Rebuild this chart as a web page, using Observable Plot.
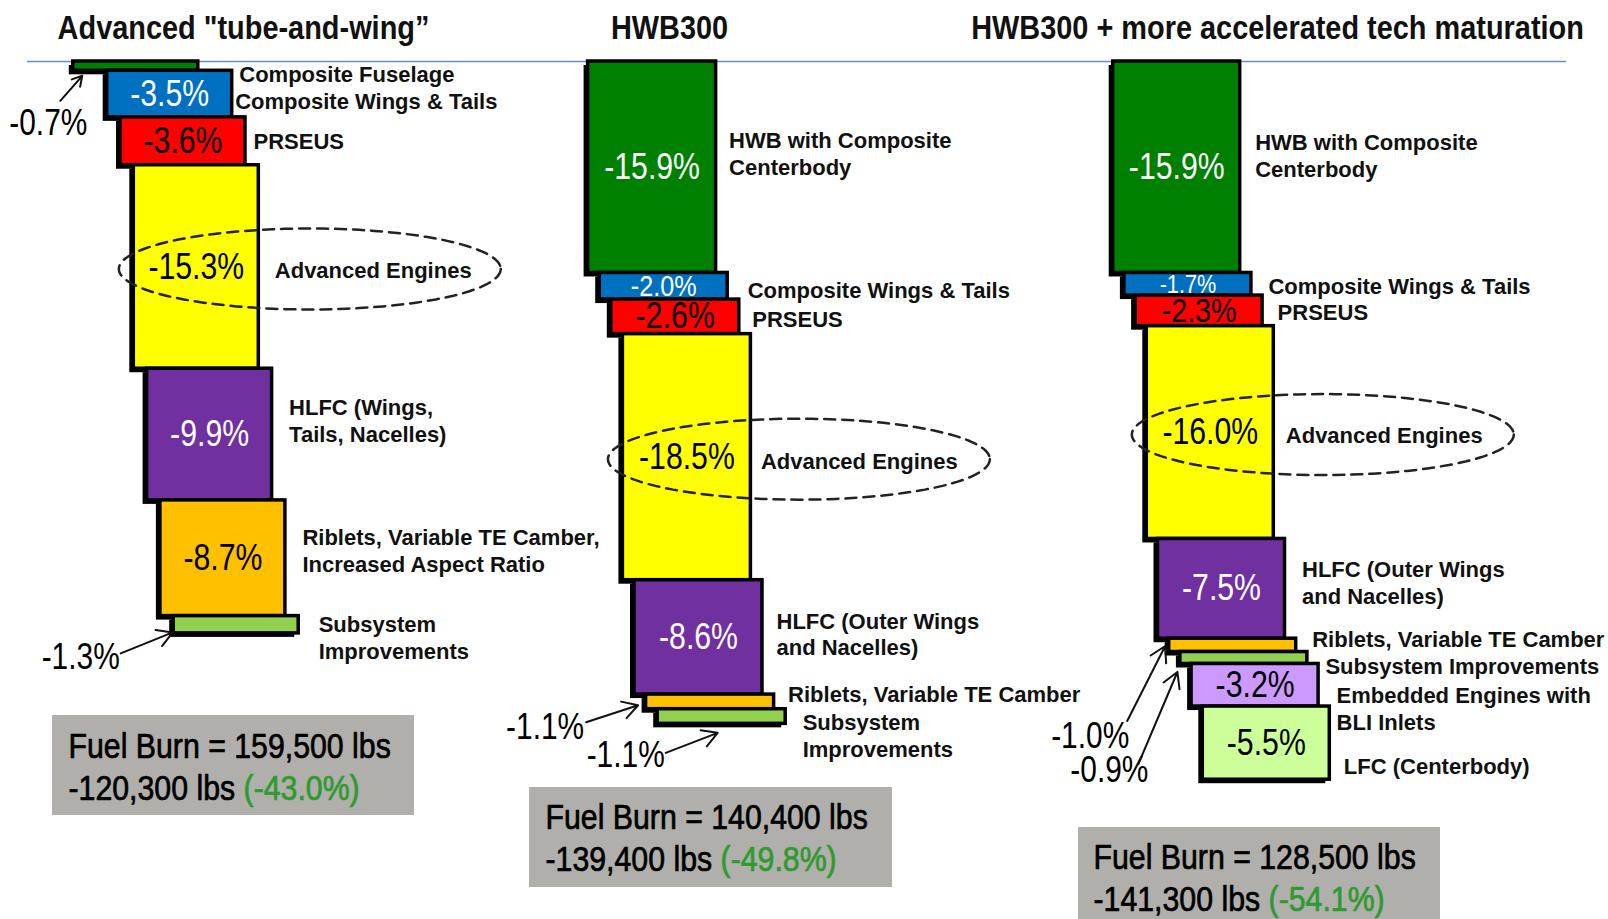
<!DOCTYPE html>
<html><head><meta charset="utf-8">
<script src="https://cdn.jsdelivr.net/npm/d3@7"></script>
<script src="https://cdn.jsdelivr.net/npm/@observablehq/plot@0.6"></script>
<style>body{margin:0;background:#fff;}</style>
</head><body><div id="chart"></div>
<script>
// ---------- data ----------
const titles = ['Advanced "tube-and-wing\u201D', 'HWB300', 'HWB300 + more accelerated tech maturation'];

const catsTW = ["Composite Fuselage", "Composite Wings & Tails", "PRSEUS", "Advanced Engines",
  "HLFC (Wings,\nTails, Nacelles)", "Riblets, Variable TE Camber,\nIncreased Aspect Ratio", "Subsystem\nImprovements"];
const valsTW = [-0.7, -3.5, -3.6, -15.3, -9.9, -8.7, -1.3];
const keysTW = ["fuse", "wings", "prseus", "engines", "hlfc", "riblets", "subsys"];

const catsHWB = ["HWB with Composite\nCenterbody", "Composite Wings & Tails", "PRSEUS", "Advanced Engines",
  "HLFC (Outer Wings\nand Nacelles)", "Riblets, Variable TE Camber", "Subsystem\nImprovements"];
const valsHWB = [-15.9, -2.0, -2.6, -18.5, -8.6, -1.1, -1.1];
const keysHWB = ["hwb", "wings", "prseus", "engines", "hlfc", "riblets", "subsys"];

const catsHWBplus = ["HWB with Composite\nCenterbody", "Composite Wings & Tails", "PRSEUS", "Advanced Engines",
  "HLFC (Outer Wings\nand Nacelles)", "Riblets, Variable TE Camber", "Subsystem Improvements",
  "Embedded Engines with\nBLI Inlets", "LFC (Centerbody)"];
const valsHWBplus = [-15.9, -1.7, -2.3, -16.0, -7.5, -1.0, -0.9, -3.2, -5.5];
const keysHWBplus = ["hwb", "wings", "prseus", "engines", "hlfc", "riblets", "subsys", "bli", "lfc"];

const fuelBurn = ["159,500", "140,400", "128,500"];
const savingsLbs = ["-120,300", "-139,400", "-141,300"];
const savingsPct = ["-43.0%", "-49.8%", "-54.1%"];

// ---------- styles / layout ----------
const colorOf = {fuse:"#008000", hwb:"#008000", wings:"#0070c0", prseus:"#ff0000", engines:"#ffff00",
  hlfc:"#7030a0", riblets:"#ffc000", subsys:"#92d050", bli:"#cc99ff", lfc:"#ccff99"};
const whiteText = new Set(["fuse", "hwb", "wings", "hlfc"]);
const SANS = "'Liberation Sans',Arial,sans-serif";

const Y0 = 61, K = 13.3;               // baseline pixel, pixels per percentage point
const py = px => (px - Y0) / K;         // pixel -> percent units (layout helper)

const layout = [
  {base:106.7, step:13.3, width:125, slots:[-2.55,0,1,2,3,4,5], titleX:243,
   gaps:[41,3,8,16,17,17,20], dys:[7,6,-1,2,-15,-8,12],
   box:[52,414,715,815], textX:68, lines:[746,788],
   small:{0:{t:[-25,53], a:[-13,30,9,5]}, 6:{t:[-93,24], a:[-53,20,-1,-1]}}},
  {base:587.6, step:11.6, width:128, slots:[0,1,2,3,4,5,6], titleX:669,
   gaps:[13,20,13,10,14,14,17], dys:[-14,3,2,3,-4,-8,18],
   box:[529,892,787,887], textX:545, lines:[817,859],
   small:{5:{t:[-101,18], a:[-60,13,-8,-4]}, 6:{t:[-32,32], a:[8,29,60,9]}}},
  {base:1112.7, step:11.2, width:127, slots:[0,1,2,3,4,5,6,7,8], titleX:1277,
   gaps:[15,17,15,12,17,16,18,18,14], dys:[-12,1,1,2,-7,-7,7,23,22],
   box:[1078,1440,827,930], textX:1093, lines:[857,899],
   small:{5:{t:[-79,84], a:[-42,69,-4,-6]}, 6:{t:[-71,106], a:[-42,100,-3,8]}}}
];

const columns = [
  {cats:catsTW, vals:valsTW, keys:keysTW},
  {cats:catsHWB, vals:valsHWB, keys:keysHWB},
  {cats:catsHWBplus, vals:valsHWBplus, keys:keysHWBplus}
];

// ---------- derived tables ----------
const bars = [];
columns.forEach((c, ci) => {
  const L = layout[ci];
  let cum = 0;
  c.vals.forEach((v, i) => {
    const x1 = L.base + L.slots[i] * L.step;
    bars.push({col:ci, i, cat:c.cats[i], val:v, key:c.keys[i],
      y1:cum, y2:cum + Math.abs(v), x1, x2:x1 + L.width,
      label:v.toFixed(1) + "%", small: L.small[i]});
    cum += Math.abs(v);
  });
});
const bigBars = bars.filter(b => !b.small);
const smallBars = bars.filter(b => b.small);

// dashed ellipses around "Advanced Engines"
const ellipse = [];
bars.filter(b => b.key === "engines").forEach(b => {
  const rx = 191, ry = 40.5, cx = b.x1 - 15 + rx, cyPct = (b.y1 + b.y2) / 2 + 2 / K;
  for (let t = 0; t <= 96; t++) {
    const a = t / 96 * 2 * Math.PI;
    ellipse.push({col:b.col, x:cx + rx * Math.cos(a), y:cyPct + ry * Math.sin(a) / K});
  }
});

const boxes = layout.map((L, ci) => ({ci, x1:L.box[0], x2:L.box[1], y1:py(L.box[2]), y2:py(L.box[3]),
  tx:L.textX, l1:py(L.lines[0]), l2:py(L.lines[1]),
  t1:`Fuel Burn = ${fuelBurn[ci]} lbs`, t2:`${savingsLbs[ci]} lbs (${savingsPct[ci]})`}));

const valueSize = d => Math.max(24, Math.min(36, Math.abs(d.val) * K * 1.05 + 2));

const plot = Plot.plot({
  width:1608, height:919, margin:0,
  x:{domain:[0,1608], range:[0,1608], axis:null},
  y:{domain:[py(0), py(919)], range:[0,919], axis:null},
  marks:[
    Plot.ruleY([0], {x1:27, x2:1566, stroke:"#5b8fd6", strokeWidth:1.5}),
    Plot.rect(boxes, {x1:"x1", x2:"x2", y1:"y1", y2:"y2", fill:"#b0afab"}),
    // shadows
    Plot.rect(bars, {x1:"x1", x2:"x2", y1:"y1", y2:"y2", fill:"#000", dx:-4, dy:4}),
    Plot.rect(bars, {x1:"x1", x2:"x2", y1:"y1", y2:"y2", fill:d => colorOf[d.key], stroke:"#000", strokeWidth:3.5}),
    Plot.line(ellipse, {x:"x", y:"y", z:"col", stroke:"#222", strokeWidth:2.5, strokeDasharray:"11,7"}),
    Plot.text(bigBars, {x:d => (d.x1 + d.x2) / 2, y:d => (d.y1 + d.y2) / 2, text:"label",
      fill:d => whiteText.has(d.key) ? "#fff" : "#000", fontSize:valueSize, fontFamily:SANS,
      ariaDescription:"squeeze-0.84"}),
    Plot.text(bars, {x:d => d.x2 + layout[d.col].gaps[d.i], y:d => (d.y1 + d.y2) / 2 + layout[d.col].dys[d.i] / K,
      text:"cat", textAnchor:"start", fill:"#111", fontSize:22, fontWeight:"bold", fontFamily:SANS, lineHeight:1.22}),
    Plot.text(smallBars, {x:d => d.x1 + d.small.t[0], y:d => d.y2 + d.small.t[1] / K, text:"label",
      fill:"#000", fontSize:36, fontFamily:SANS, ariaDescription:"squeeze-0.83"}),
    Plot.arrow(smallBars, {x1:d => d.x1 + d.small.a[0], y1:d => d.y2 + d.small.a[1] / K,
      x2:d => d.x1 + d.small.a[2], y2:d => d.y2 + d.small.a[3] / K, stroke:"#111", strokeWidth:2, headLength:13}),
    Plot.text(titles, {x:(d, i) => layout[i].titleX, y:py(28), text:d => d, fill:"#111",
      fontSize:34, fontWeight:"bold", fontFamily:SANS, ariaDescription:"squeeze-0.85"}),
    Plot.text(boxes, {x:"tx", y:"l1", text:"t1", textAnchor:"start", fill:"#000", fontSize:35, fontFamily:SANS,
      stroke:"#000", strokeWidth:0.7, ariaDescription:"squeeze-0.865"}),
    Plot.text(boxes, {x:"tx", y:"l2", text:"t2", textAnchor:"start", fill:"#000", fontSize:35, fontFamily:SANS,
      stroke:"#000", strokeWidth:0.7, ariaDescription:"squeeze-0.865"})
  ]
});
document.getElementById("chart").appendChild(plot);

// colour the percentage part of the savings line green
d3.select(plot).selectAll("text").each(function() {
  const m = this.textContent.match(/^(.* lbs )(\(.*\))$/);
  if (m) {
    const sel = d3.select(this); sel.text("");
    sel.append("tspan").text(m[1]);
    sel.append("tspan").attr("fill", "#2f9a2f").attr("stroke", "#2f9a2f").text(m[2]);
  }
});
// condense texts set in a narrow face (no narrow font installed)
d3.select(plot).selectAll("g[aria-description^='squeeze']").each(function() {
  const f = +this.getAttribute("aria-description").split("-")[1];
  d3.select(this).selectAll("text").each(function() {
    const w = this.getComputedTextLength();
    this.setAttribute("textLength", (w * f).toFixed(1));
    this.setAttribute("lengthAdjust", "spacingAndGlyphs");
  });
});
</script>
</body></html>
